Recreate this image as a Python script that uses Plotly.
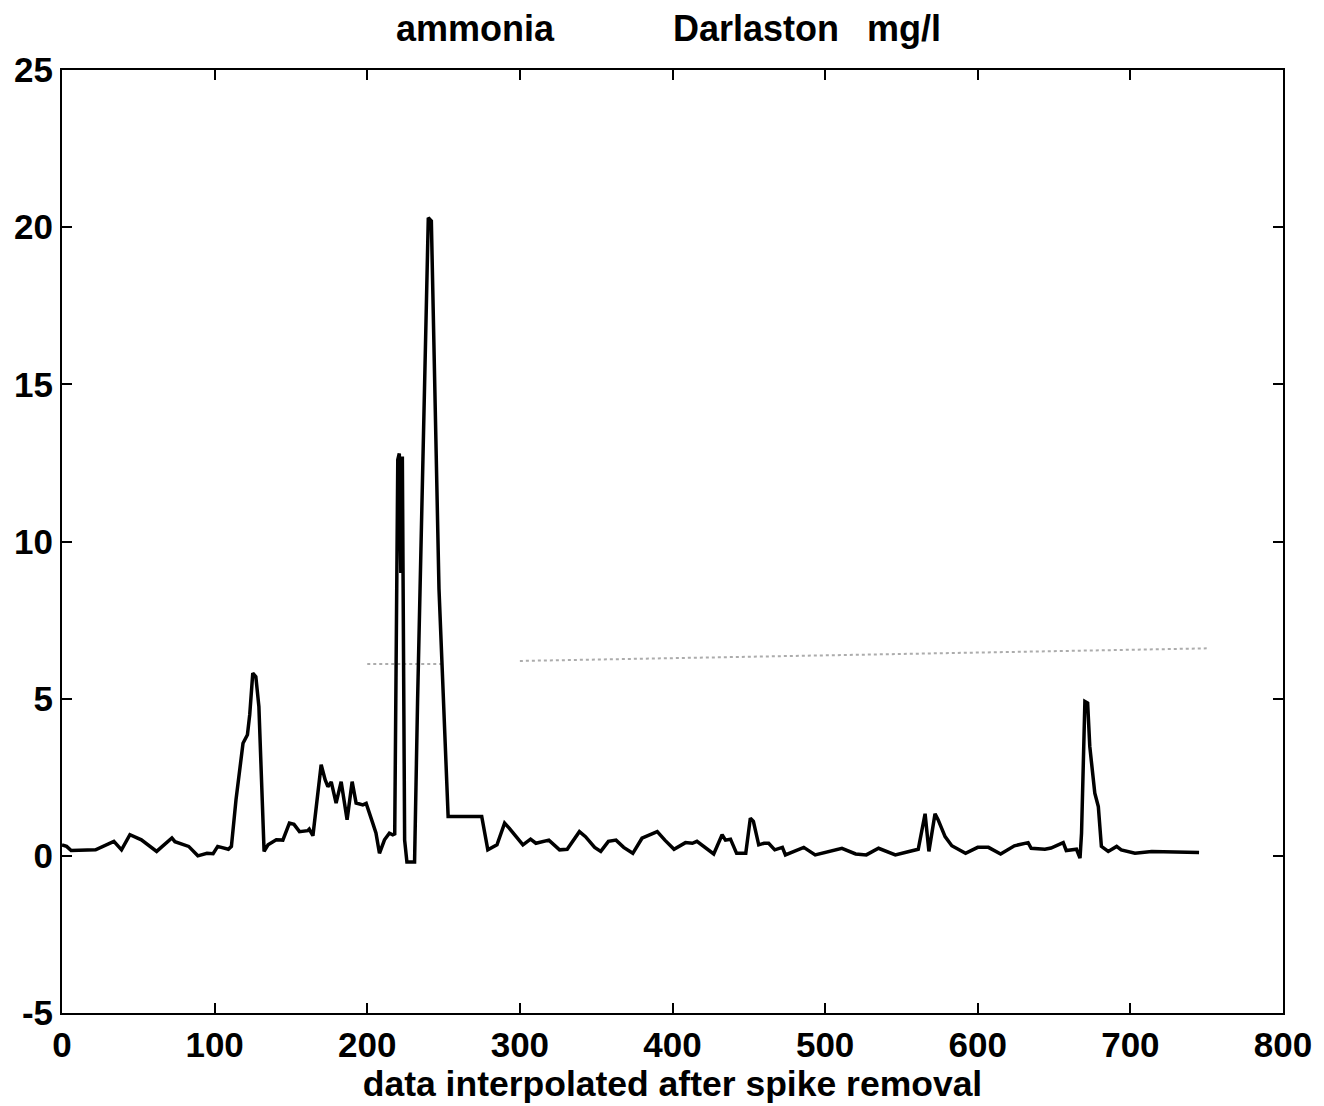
import plotly.graph_objects as go

# sample index and ammonia concentration (mg/l)
x_vals = [0, 3, 6, 22, 34, 39, 44.5, 52, 62, 72, 74, 83, 89, 95, 99, 102, 109, 111, 114, 116.4,
          118.6, 121.5, 123, 125, 127, 129, 132.4, 135, 140.4, 144.7, 149, 152, 155.6, 161, 162, 164.4,
          169.8, 172.4, 174.2, 176.4, 179.6, 182.9, 184.6, 186.8, 190.1, 192.7, 197.1, 199.3, 203.6,
          205.7, 208, 211.3, 214.5, 216.7, 218, 220, 221, 222, 223, 224.5, 226, 231, 233, 240, 242,
          247, 253, 275, 279, 285, 290, 293, 302, 307, 310.5, 319, 326, 331, 339, 343, 349, 353, 358,
          363, 368, 374, 380, 390, 395, 401, 408.5, 413, 416, 421.6, 427, 432.5, 434.7, 438, 442, 448,
          451, 453, 456.5, 460, 463, 467, 472, 474, 479, 486, 493.5, 503, 511, 520, 527, 535, 546, 555,
          561, 565.5, 568, 572, 574, 578.6, 583, 592, 600, 607, 615, 624, 633, 635, 644, 648, 656, 658,
          664.7, 667, 668, 670.2, 672, 673.4, 676.7, 679, 681, 685.5, 691, 694, 703, 714, 745]
y_vals = [0.35, 0.3, 0.17, 0.19, 0.46, 0.19, 0.67, 0.51, 0.14, 0.57, 0.45, 0.3, 0.0, 0.08, 0.07, 0.3,
          0.21, 0.3, 1.78, 2.63, 3.58, 3.85, 4.49, 5.81, 5.7, 4.75, 0.14, 0.35, 0.51, 0.5, 1.04, 1.0,
          0.77, 0.8, 0.85, 0.64, 2.9, 2.42, 2.2, 2.35, 1.68, 2.36, 1.88, 1.15, 2.36, 1.68, 1.62, 1.67,
          1.04, 0.73, 0.08, 0.51, 0.72, 0.67, 0.7, 12.6, 12.8, 9.0, 12.7, 0.5, -0.2, -0.2, 5.0, 20.3,
          20.2, 8.5, 1.25, 1.25, 0.19, 0.35, 1.04, 0.88, 0.35, 0.53, 0.40, 0.5, 0.19, 0.21, 0.77, 0.61,
          0.27, 0.14, 0.46, 0.5, 0.27, 0.08, 0.56, 0.77, 0.5, 0.21, 0.42, 0.4, 0.46, 0.24, 0.06, 0.67,
          0.5, 0.53, 0.08, 0.08, 1.2, 1.1, 0.35, 0.4, 0.4, 0.19, 0.27, 0.03, 0.14, 0.27, 0.03, 0.14,
          0.24, 0.06, 0.03, 0.24, 0.03, 0.14, 0.21, 1.34, 0.14, 1.34, 1.15, 0.61, 0.32, 0.08, 0.27,
          0.27, 0.06, 0.32, 0.42, 0.24, 0.21, 0.25, 0.42, 0.17, 0.21, -0.07, 0.72, 4.91, 4.86, 3.48,
          1.99, 1.57, 0.3, 0.14, 0.3, 0.19, 0.08, 0.14, 0.11]

# faint scan bleed-through dotted line
ghost_x = [200, 250, None, 300, 750]
ghost_y = [6.1, 6.1, None, 6.2, 6.6]

x_ticks = [0, 100, 200, 300, 400, 500, 600, 700, 800]
y_ticks = [-5, 0, 5, 10, 15, 20, 25]

title_words = ["ammonia", "Darlaston", "mg/l"]
title_pos = [0.339, 0.568, 0.690]   # paper x of each word centre

FONT = "Arial, 'Liberation Sans', sans-serif"

fig = go.Figure()
fig.add_trace(go.Scatter(x=ghost_x, y=ghost_y, mode="lines",
                         line=dict(color="rgba(90,90,90,0.5)", width=2, dash="dot"),
                         showlegend=False, hoverinfo="skip"))
fig.add_trace(go.Scatter(x=x_vals, y=y_vals, mode="lines",
                         line=dict(color="black", width=3.5), showlegend=False))

axis_common = dict(showline=True, linecolor="black", linewidth=2, mirror="ticks",
                   ticks="inside", ticklen=10, tickwidth=2, tickcolor="black",
                   showgrid=False, zeroline=False,
                   tickfont=dict(family=FONT, size=35, color="black", weight="bold"))

for w, px in zip(title_words, title_pos):
    fig.add_annotation(text=w, xref="paper", yref="paper", x=px, y=1.0, yshift=42,
                       xanchor="center", yanchor="middle", showarrow=False,
                       font=dict(family=FONT, size=36, color="black", weight="bold"))

fig.update_layout(
    width=1324, height=1106,
    margin=dict(l=62, r=38, t=70, b=93),
    paper_bgcolor="white", plot_bgcolor="white",
    xaxis=dict(range=[0, 800], tickvals=x_ticks, ticktext=[str(v) for v in x_ticks],
               title=dict(text="data interpolated after spike removal", standoff=0,
                          font=dict(family=FONT, size=35.5, color="black", weight="bold")),
               **axis_common),
    yaxis=dict(range=[-5, 25], tickvals=y_ticks, ticktext=[str(v) for v in y_ticks],
               ticklabelstandoff=0, **axis_common),
)

fig.write_html("out.html")
